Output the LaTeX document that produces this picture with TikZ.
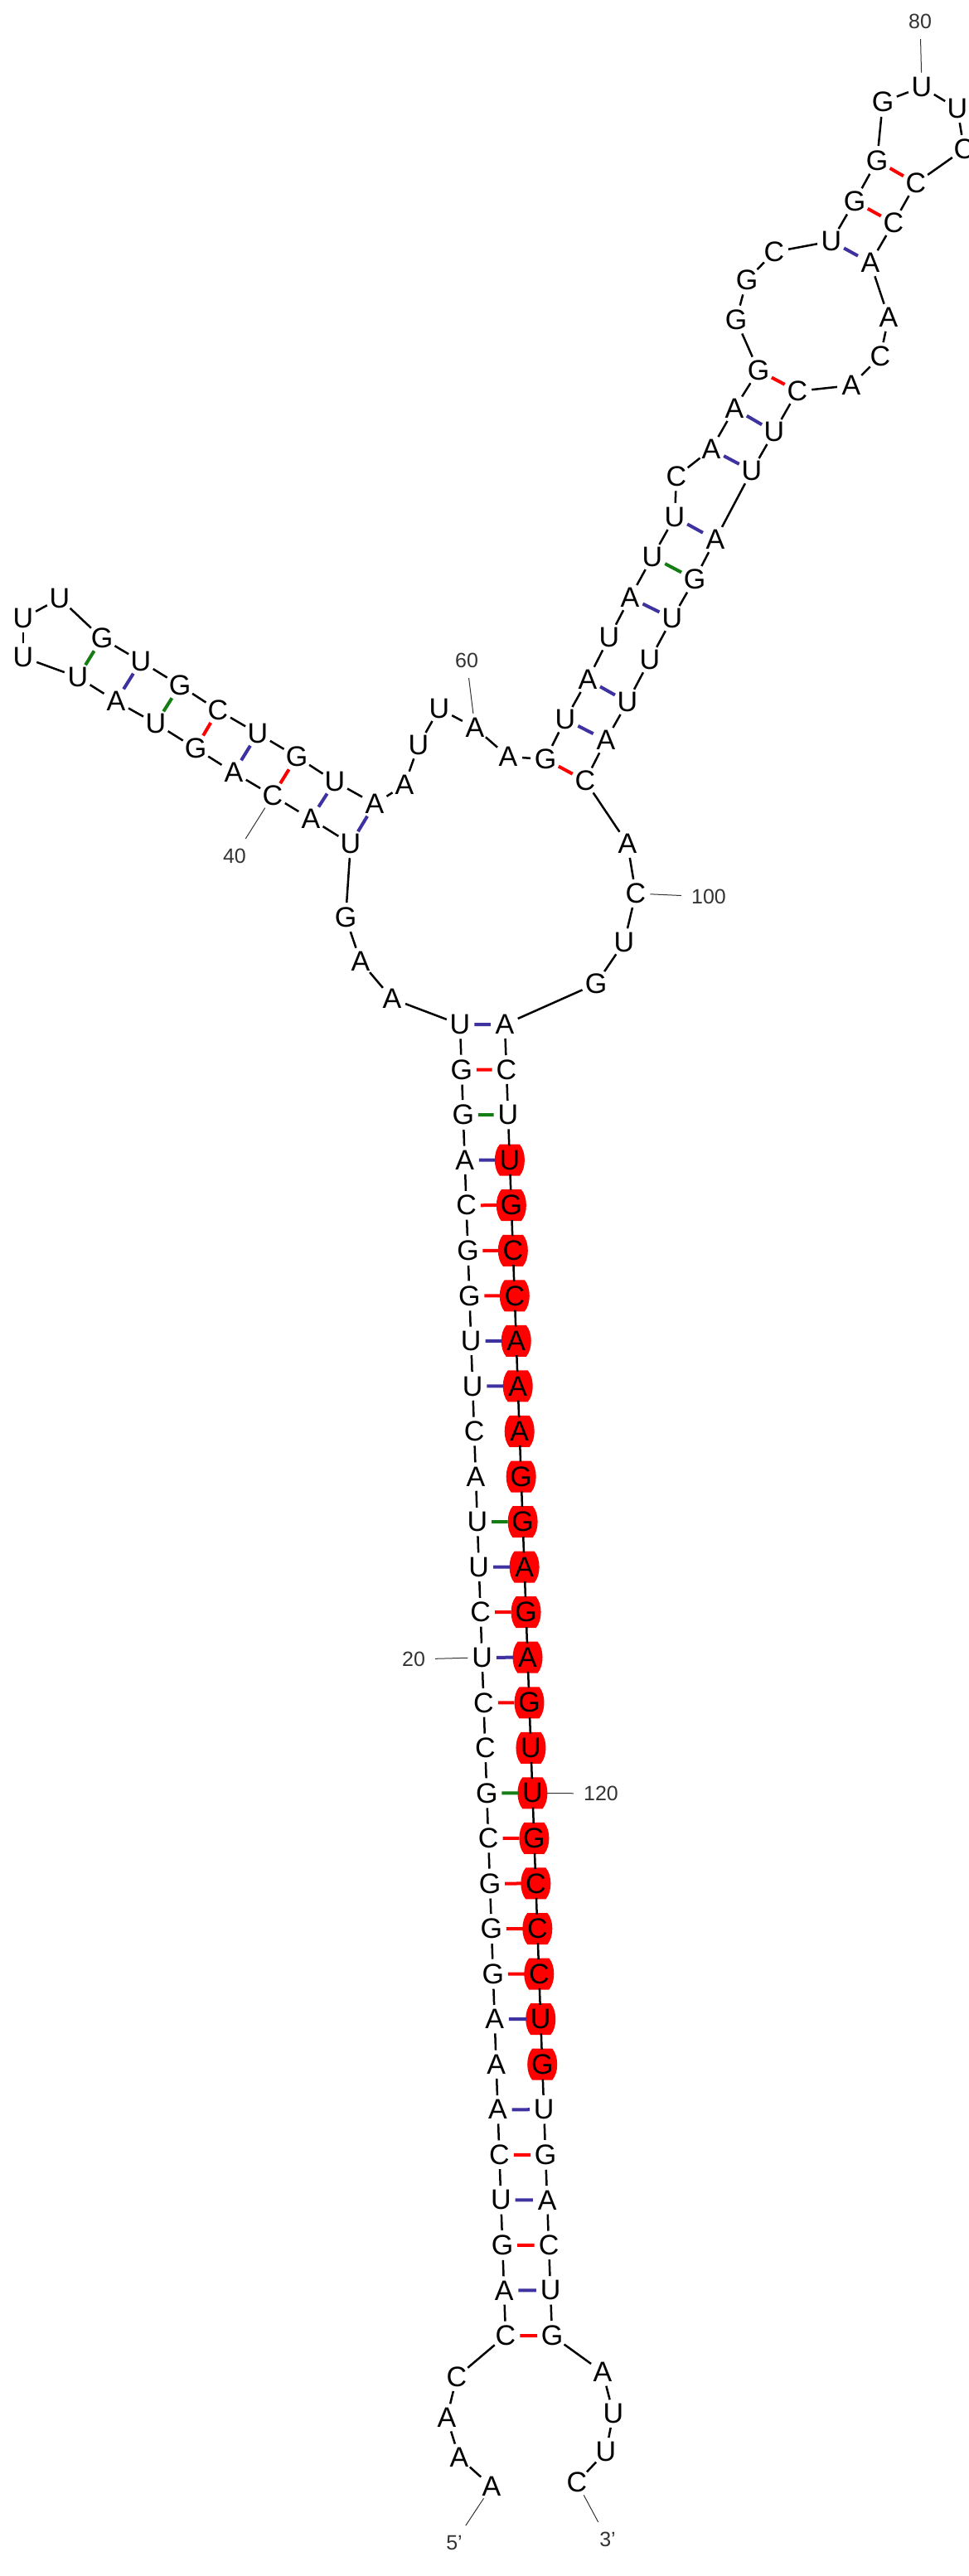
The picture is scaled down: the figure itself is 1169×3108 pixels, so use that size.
\documentclass[tikz,border=0pt]{standalone}
\usepackage{fontspec}
\setmainfont{Liberation Sans}
\usetikzlibrary{backgrounds}
\definecolor{aublue}{RGB}{62,50,160}
\definecolor{gugreen}{RGB}{20,125,20}
\definecolor{idxgray}{RGB}{51,51,51}

\begin{document}
\begin{tikzpicture}[x=1pt,y=-1pt,
    nt/.style={circle,inner sep=0pt,minimum size=34pt,font=\fontsize{34}{34}\selectfont},
    bb/.style={line width=2.5pt},
    bond/.style={line width=4pt},
    idx/.style={inner sep=12pt,text=idxgray,font=\fontsize{25}{25}\selectfont},
    idxline/.style={line width=1pt,idxgray}]
    \useasboundingbox (0,0) rectangle (1169,3108);

    \foreach \b [count=\k from 5] in {C,A,G,U,C,A,A,A,G,G,G,C,G,C,C,U,C,U,U,A,C,U,U,G,G,C,A,G,G,U}
        \node[nt] (n\k) at ({610-(\k-5)*1.897},{2818-(\k-5)*54.55}) {\b};
    \foreach \b [count=\k from 103] in {A,C,U,U,G,C,C,A,A,A,G,G,A,G,A,G,U,U,G,C,C,C,U,G,U,G,A,C,U,G}
        \node[nt] (n\k) at ({609+(\k-103)*1.966},{1236+(\k-103)*54.55}) {\b};
    \foreach \k/\b/\x/\y in {1/A/593/3000, 2/A/554/2965, 3/A/539/2917, 4/C/551/2868,
        35/A/473/1205, 36/A/435/1160, 37/G/417/1107, 38/U/423/1018, 39/A/375/988,
        40/C/329/960, 41/A/282/932, 42/G/236/903, 43/U/188/873, 44/A/140/846,
        45/U/94/817, 46/U/28/793, 47/U/28/746, 48/U/72/722, 49/G/123/770,
        50/U/170/798, 51/G/217/827, 52/C/263/857, 53/U/311/885, 54/G/358/913,
        55/U/404/943, 56/A/452/970, 57/A/488/947, 58/U/505/899, 59/U/530/855,
        60/A/573/878, 61/A/613/913, 62/G/658/916, 63/U/682/868, 64/A/709/820,
        65/U/735/769, 66/A/760/721, 67/U/787/672, 68/U/814/624, 69/C/816/575,
        70/A/858/542, 71/A/886/493, 72/G/915/447, 73/G/888/386, 74/G/901/338,
        75/C/934/304, 76/U/1003/291, 77/G/1031/243, 78/G/1058/194, 79/G/1065/123,
        80/U/1112/105, 81/U/1155/131, 82/C/1163/180, 83/C/1105/221, 84/C/1078/269,
        85/A/1050/317, 86/A/1072/383, 87/C/1062/430, 88/A/1027/465, 89/C/962/472,
        90/U/934/521, 91/U/907/568, 92/A/863/651, 93/G/838/699, 94/U/811/746,
        95/U/784/796, 96/U/757/847, 97/A/731/893, 98/C/706/942, 99/A/757/1018,
        100/C/767/1078, 101/U/753/1137, 102/G/719/1187,
        133/A/727/2862, 134/U/740/2912, 135/U/731/2958, 136/C/696/2995}
        \node[nt] (n\k) at (\x,\y) {\b};

    \begin{scope}[on background layer]
        \foreach \k in {106,...,126}
            \fill[red,shift={(n\k)}] (-12,-19) -- (12,-19) .. controls (20,-10) and (20,10) .. (12,19)
                -- (-12,19) .. controls (-20,10) and (-20,-10) .. (-12,-19) -- cycle;
    \end{scope}

    \foreach \i [count=\j from 2] in {1,...,135}
        \draw[bb] (n\i) -- (n\j);

    \foreach \a/\b/\c in {5/132/red, 6/131/aublue, 7/130/red, 8/129/aublue, 9/128/red,
        10/127/aublue, 12/125/aublue, 13/124/red, 14/123/red, 15/122/red, 16/121/red,
        17/120/gugreen, 19/118/red, 20/117/aublue, 21/116/red, 22/115/aublue,
        23/114/gugreen, 26/111/aublue, 27/110/aublue, 28/109/red, 29/108/red,
        30/107/red, 31/106/aublue, 32/105/gugreen, 33/104/red, 34/103/aublue,
        38/56/aublue, 39/55/aublue, 40/54/red, 41/53/aublue, 42/52/red,
        43/51/gugreen, 44/50/aublue, 45/49/gugreen,
        62/98/red, 63/97/aublue, 64/96/aublue, 66/94/aublue, 67/93/gugreen,
        68/92/aublue, 70/91/aublue, 71/90/aublue, 72/89/red, 76/85/aublue,
        77/84/red, 78/83/red}
        \draw[bond,\c] (n\a) -- (n\b);

    \node[idx] (i20) at (499,2002) {20};
    \draw[idxline] (n20) -- (i20);
    \node[idx] (i40) at (283,1033) {40};
    \draw[idxline] (n40) -- (i40);
    \node[idx] (i60) at (563,797) {60};
    \draw[idxline] (n60) -- (i60);
    \node[idx] (i80) at (1110,26) {80};
    \draw[idxline] (n80) -- (i80);
    \node[idx] (i100) at (855,1082) {100};
    \draw[idxline] (n100) -- (i100);
    \node[idx] (i120) at (725,2164) {120};
    \draw[idxline] (n120) -- (i120);
    \node[idx] (i5) at (548,3068) {5’};
    \draw[idxline] (n1) -- (i5);
    \node[idx] (i3) at (733,3064) {3’};
    \draw[idxline] (n136) -- (i3);
\end{tikzpicture}
\end{document}
